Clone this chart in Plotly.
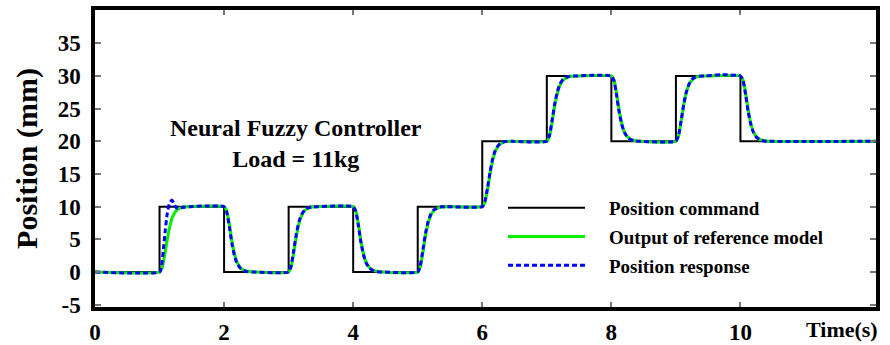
import plotly.graph_objects as go

# ---------------- data ----------------
cmd_t = [0, 1, 2, 3, 4, 5, 6, 7, 8, 9, 10, 12.1]
cmd_y = [0, 10, 0, 10, 0, 10, 20, 30, 20, 30, 20, 20]

ref_t = [0.00,
         1.00, 1.04, 1.08, 1.12, 1.16, 1.20, 1.25, 1.30, 1.36, 1.45,
         2.00, 2.04, 2.08, 2.12, 2.16, 2.20, 2.25, 2.30, 2.36, 2.45,
         3.00, 3.04, 3.08, 3.12, 3.16, 3.20, 3.25, 3.30, 3.36, 3.45,
         4.00, 4.04, 4.08, 4.12, 4.16, 4.20, 4.25, 4.30, 4.36, 4.45,
         5.00, 5.04, 5.08, 5.12, 5.16, 5.20, 5.25, 5.30, 5.36, 5.45,
         6.00, 6.04, 6.08, 6.12, 6.16, 6.20, 6.25, 6.30, 6.36, 6.45,
         7.00, 7.04, 7.08, 7.12, 7.16, 7.20, 7.25, 7.30, 7.36, 7.45,
         8.00, 8.04, 8.08, 8.12, 8.16, 8.20, 8.25, 8.30, 8.36, 8.45,
         9.00, 9.04, 9.08, 9.12, 9.16, 9.20, 9.25, 9.30, 9.36, 9.45,
         10.00, 10.04, 10.08, 10.12, 10.16, 10.20, 10.25, 10.30, 10.36, 10.45,
         12.10]
ref_y = [0,
         0, 0.6, 2.6, 5.0, 7.0, 8.4, 9.3, 9.7, 9.95, 10,
         10, 9.4, 7.4, 4.8, 2.8, 1.5, 0.7, 0.3, 0.1, 0,
         0, 0.8, 3.0, 5.5, 7.4, 8.6, 9.4, 9.75, 9.95, 10,
         10, 9.4, 7.4, 4.8, 2.8, 1.5, 0.7, 0.3, 0.1, 0,
         0, 0.8, 3.0, 5.5, 7.4, 8.6, 9.4, 9.75, 9.95, 10,
         10, 10.6, 12.5, 15.0, 17.0, 18.4, 19.3, 19.7, 19.95, 20,
         20, 20.7, 22.8, 25.3, 27.2, 28.5, 29.3, 29.7, 29.95, 30,
         30, 29.4, 27.4, 24.8, 22.8, 21.5, 20.7, 20.3, 20.1, 20,
         20, 20.8, 23.0, 25.5, 27.4, 28.6, 29.4, 29.75, 29.95, 30,
         30, 29.4, 27.4, 24.8, 22.8, 21.5, 20.7, 20.3, 20.1, 20,
         20]

resp_t = [0.00,
          1.00, 1.03, 1.06, 1.09, 1.12, 1.15, 1.19, 1.22, 1.26, 1.30, 1.36, 1.45, 1.70,
          2.00, 2.04, 2.08, 2.12, 2.16, 2.20, 2.25, 2.30, 2.36, 2.45,
          3.00, 3.04, 3.08, 3.12, 3.16, 3.20, 3.25, 3.30, 3.36, 3.45,
          4.00, 4.04, 4.08, 4.12, 4.16, 4.20, 4.25, 4.30, 4.36, 4.45,
          5.00, 5.04, 5.08, 5.12, 5.16, 5.20, 5.25, 5.30, 5.36, 5.45,
          6.00, 6.04, 6.08, 6.12, 6.16, 6.20, 6.25, 6.30, 6.36, 6.45,
          7.00, 7.04, 7.08, 7.12, 7.16, 7.20, 7.25, 7.30, 7.36, 7.45, 7.70,
          8.00, 8.04, 8.08, 8.12, 8.16, 8.20, 8.25, 8.30, 8.36, 8.45,
          9.00, 9.04, 9.08, 9.12, 9.16, 9.20, 9.25, 9.30, 9.36, 9.45, 9.70,
          10.00, 10.04, 10.08, 10.12, 10.16, 10.20, 10.25, 10.30, 10.36, 10.45,
          12.10]
resp_y = [0,
          0, 0.8, 3.5, 6.5, 9.0, 10.4, 11.0, 10.6, 9.8, 9.7, 9.9, 10.0, 10.1,
          10, 9.2, 7.0, 4.4, 2.5, 1.3, 0.6, 0.25, 0.05, 0,
          0, 1.0, 3.4, 5.9, 7.7, 8.8, 9.5, 9.8, 9.97, 10,
          10, 9.3, 7.1, 4.5, 2.6, 1.4, 0.6, 0.25, 0.05, 0,
          0, 1.0, 3.4, 5.9, 7.7, 8.8, 9.5, 9.8, 9.97, 10,
          10, 10.8, 12.8, 15.3, 17.3, 18.6, 19.4, 19.8, 19.97, 20,
          20, 20.9, 23.1, 25.6, 27.5, 28.7, 29.5, 29.8, 29.97, 30, 30.1,
          30, 29.3, 27.1, 24.5, 22.6, 21.4, 20.6, 20.25, 20.05, 20,
          20, 20.9, 23.1, 25.6, 27.5, 28.7, 29.5, 29.8, 29.97, 30, 30.2,
          30, 29.3, 27.1, 24.5, 22.6, 21.4, 20.6, 20.25, 20.05, 20,
          20]

x_ticks = [0, 2, 4, 6, 8, 10]
y_ticks = [-5, 0, 5, 10, 15, 20, 25, 30, 35]

series_names = ["Position command", "Output of reference model", "Position response"]

FONT = "Liberation Serif, Times New Roman, serif"
PAD = "\u2002\u2002"  # visual gap between legend sample and its text

fig = go.Figure()
fig.add_trace(go.Scatter(x=cmd_t, y=cmd_y, mode="lines", line_shape="hv",
                         name=PAD + series_names[0], legendgroup="a",
                         line=dict(color="#000000", width=2)))
fig.add_trace(go.Scatter(x=ref_t, y=ref_y, mode="lines", line_shape="spline",
                         name=PAD + series_names[1], legendgroup="b",
                         line=dict(color="#00ee00", width=3, smoothing=0.5)))
fig.add_trace(go.Scatter(x=resp_t, y=resp_y, mode="lines", line_shape="spline",
                         name=PAD + series_names[2], legendgroup="c",
                         line=dict(color="#0000ff", width=3, dash="5px,3px", smoothing=0.5)))

fig.update_layout(
    width=890, height=345,
    margin=dict(l=95, r=14, t=10, b=38, autoexpand=False),
    paper_bgcolor="white", plot_bgcolor="white",
    font=dict(family=FONT, color="black"),
    showlegend=True,
    legend=dict(x=(503 - 95) / 781, y=(307 - 189) / 297, xanchor="left", yanchor="top",
                bgcolor="rgba(0,0,0,0)", itemwidth=77, tracegroupgap=1,
                font=dict(family=FONT, size=19, weight="bold", color="black")),
    xaxis=dict(range=[0, 12.1], tickvals=x_ticks, ticktext=[str(v) for v in x_ticks],
               ticks="inside", ticklen=5, tickwidth=1.5, tickcolor="#777",
               showline=True, linewidth=3.5, linecolor="black", mirror="ticks",
               showgrid=False, zeroline=False, ticklabelstandoff=2, automargin=False,
               tickfont=dict(family=FONT, size=23, weight="bold")),
    yaxis=dict(range=[-5.36, 40.1], tickvals=y_ticks, ticktext=[str(v) for v in y_ticks],
               ticks="inside", ticklen=6, tickwidth=1.5, tickcolor="#777",
               showline=True, linewidth=3.5, linecolor="black", mirror="ticks",
               showgrid=False, zeroline=False, ticklabelstandoff=6, automargin=False,
               tickfont=dict(family=FONT, size=23, weight="bold"),
               title=dict(text="Position (mm)", standoff=12,
                          font=dict(family=FONT, size=30, weight="bold"))),
    annotations=[
        dict(text="Neural Fuzzy Controller<br>Load = 11kg", xref="paper", yref="paper",
             x=(296 - 95) / 781, y=(307 - 144) / 297, xanchor="center", yanchor="middle",
             showarrow=False, align="center",
             font=dict(family=FONT, size=24, weight="bold")),
        dict(text="Time(s)", xref="paper", yref="paper",
             x=(842 - 95) / 781, y=0, yshift=-22, xanchor="center", yanchor="middle",
             showarrow=False, font=dict(family=FONT, size=22, weight="bold")),
    ],
)

fig.write_html("out.html", config={"displayModeBar": False},
               post_script="document.body.style.margin='0';")
